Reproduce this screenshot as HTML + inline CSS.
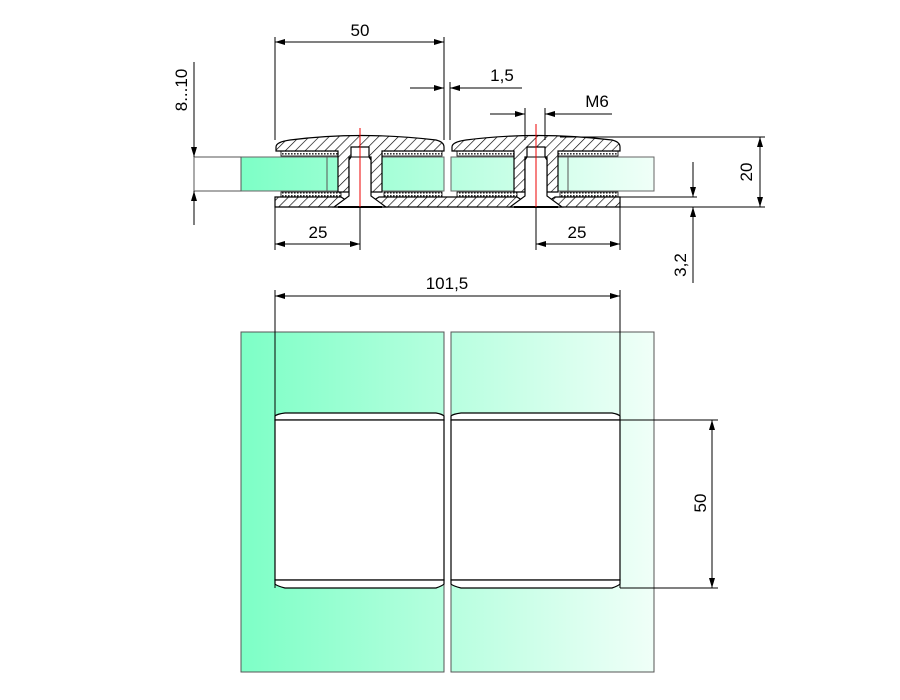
<!DOCTYPE html>
<html><head><meta charset="utf-8"><style>
html,body{margin:0;padding:0;background:#fff}
svg{display:block}
text{font-family:"Liberation Sans",sans-serif;font-size:17px;fill:#000}
</style></head><body>
<svg width="900" height="700" viewBox="0 0 900 700" xmlns="http://www.w3.org/2000/svg">
<defs>
<pattern id="h" width="7" height="7" patternUnits="userSpaceOnUse" patternTransform="rotate(45)">
<rect width="7" height="7" fill="#fff"/><line x1="0" y1="0" x2="0" y2="7" stroke="#000" stroke-width="1.3"/></pattern>
<pattern id="d" width="3" height="3" patternUnits="userSpaceOnUse">
<rect width="3" height="3" fill="#fff"/><rect width="1.6" height="1.6" fill="#333"/></pattern>
<linearGradient id="g" x1="241" x2="654" gradientUnits="userSpaceOnUse">
<stop offset="0" stop-color="#7dffc6"/><stop offset="1" stop-color="#f0fff8"/></linearGradient>
<marker id="a" viewBox="0 0 10 6" refX="10" refY="3" markerWidth="14" markerHeight="6" markerUnits="userSpaceOnUse" orient="auto-start-reverse"><path d="M0,0L10,3L0,6z" fill="#000"/></marker>
</defs>

<!-- Section view glass -->
<rect x="241" y="157" width="203" height="34" fill="url(#g)" stroke="#666"/>
<rect x="451" y="157" width="203" height="34" fill="url(#g)" stroke="#666"/>
<line x1="327" y1="157" x2="327" y2="191" stroke="#555"/>
<line x1="568" y1="157" x2="568" y2="191" stroke="#555"/>
<rect x="194" y="157" width="47" height="34" fill="#fff" stroke="#555"/>

<!-- gaskets -->
<g fill="url(#d)" stroke="#000" stroke-width="0.8">
<rect x="281" y="151" width="57" height="5"/><rect x="382" y="151" width="60" height="5"/>
<rect x="457" y="151" width="57" height="5"/><rect x="558" y="151" width="60" height="5"/>
<rect x="281" y="192" width="60" height="5"/><rect x="384" y="192" width="58" height="5"/>
<rect x="457" y="192" width="60" height="5"/><rect x="560" y="192" width="58" height="5"/>
<rect x="338" y="156" width="7" height="36"/><rect x="375" y="156" width="7" height="36"/>
<rect x="514" y="156" width="7" height="36"/><rect x="551" y="156" width="7" height="36"/>
</g>

<!-- covers -->
<g fill="url(#h)" stroke="#000" stroke-width="1.2">
<path d="M276,147 Q276,142 290,140 Q360,131 436,140 Q444,142 444,147 L444,151 L382,151 L382,192 L371,192 L371,157 L349,157 L349,192 L338,192 L338,151 L276,151 Z"/>
<path d="M452,147 Q452,142 466,140 Q536,131 612,140 Q620,142 620,147 L620,151 L558,151 L558,192 L547,192 L547,157 L525,157 L525,192 L514,192 L514,151 L452,151 Z"/>
<path d="M275,197 L341,197 L349,202 L349,197 L371,197 L371,202 L379,197 L517,197 L525,202 L525,197 L547,197 L547,202 L555,197 L620,197 L620,207 L275,207 Z"/>
</g>
<!-- screws -->
<g fill="#fff" stroke="#000" stroke-width="1.2">
<path d="M351,147 L369,147 L369,157 L371,160 L371,196 L386,207 L334,207 L349,196 L349,160 L351,157 Z"/>
<path d="M527,147 L545,147 L545,157 L547,160 L547,196 L562,207 L510,207 L525,196 L525,160 L527,157 Z"/>
</g>
<line x1="351" y1="157" x2="369" y2="157" stroke="#000"/><line x1="527" y1="157" x2="545" y2="157" stroke="#000"/>
<line x1="338" y1="207" x2="382" y2="207" stroke="#000" stroke-width="2"/>
<line x1="514" y1="207" x2="558" y2="207" stroke="#000" stroke-width="2"/>
<line x1="360" y1="128" x2="360" y2="210" stroke="#e00"/>
<line x1="536" y1="124" x2="536" y2="210" stroke="#e00"/>

<!-- plan view -->
<rect x="241" y="332" width="203" height="340" fill="url(#g)" stroke="#555"/>
<rect x="451" y="332" width="203" height="340" fill="url(#g)" stroke="#555"/>
<g fill="#fff" stroke="#000" stroke-width="1.2">
<path d="M275,420 L275,416 Q277,414 285,413 L436,413 Q442,414 444,416 L444,420 Z"/>
<rect x="275" y="420" width="169" height="160"/>
<path d="M275,580 L275,584 Q277,586 285,588 L436,588 Q442,586 444,584 L444,580 Z"/>
<path d="M451,420 L451,416 Q453,414 461,413 L612,413 Q618,414 620,416 L620,420 Z"/>
<rect x="451" y="420" width="169" height="160"/>
<path d="M451,580 L451,584 Q453,586 461,588 L612,588 Q618,586 620,584 L620,580 Z"/>
</g>

<!-- dimensions -->
<g stroke="#000" stroke-width="1" fill="none">
<line x1="275" y1="37" x2="275" y2="140"/><line x1="444" y1="37" x2="444" y2="140"/>
<line x1="275" y1="42" x2="444" y2="42" marker-start="url(#a)" marker-end="url(#a)"/>
<line x1="450" y1="82" x2="450" y2="140"/>
<line x1="410" y1="88" x2="444" y2="88" marker-end="url(#a)"/>
<line x1="522" y1="88" x2="450" y2="88" marker-end="url(#a)"/>
<line x1="525" y1="108" x2="525" y2="140"/><line x1="545" y1="108" x2="545" y2="140"/>
<line x1="490" y1="114" x2="525" y2="114" marker-end="url(#a)"/>
<line x1="612" y1="114" x2="545" y2="114" marker-end="url(#a)"/>
<line x1="194" y1="62" x2="194" y2="157" marker-end="url(#a)"/>
<line x1="194" y1="225" x2="194" y2="191" marker-end="url(#a)"/>
<line x1="560" y1="137" x2="765" y2="137"/><line x1="620" y1="207" x2="765" y2="207"/>
<line x1="760" y1="137" x2="760" y2="207" marker-start="url(#a)" marker-end="url(#a)"/>
<line x1="620" y1="197" x2="697" y2="197"/>
<line x1="693" y1="162" x2="693" y2="197" marker-end="url(#a)"/>
<line x1="693" y1="283" x2="693" y2="207" marker-end="url(#a)"/>
<line x1="275" y1="207" x2="275" y2="250"/><line x1="360" y1="207" x2="360" y2="250"/>
<line x1="275" y1="244" x2="360" y2="244" marker-start="url(#a)" marker-end="url(#a)"/>
<line x1="536" y1="207" x2="536" y2="250"/><line x1="620" y1="207" x2="620" y2="250"/>
<line x1="536" y1="244" x2="620" y2="244" marker-start="url(#a)" marker-end="url(#a)"/>
<line x1="275" y1="290" x2="275" y2="588"/><line x1="620" y1="290" x2="620" y2="588"/>
<line x1="275" y1="296" x2="620" y2="296" marker-start="url(#a)" marker-end="url(#a)"/>
<line x1="620" y1="420" x2="718" y2="420"/><line x1="620" y1="588" x2="718" y2="588"/>
<line x1="712" y1="420" x2="712" y2="588" marker-start="url(#a)" marker-end="url(#a)"/>
</g>
<text x="360" y="36" text-anchor="middle">50</text>
<text x="502" y="81" text-anchor="middle">1,5</text>
<text x="597" y="107" text-anchor="middle">M6</text>
<text x="318" y="238" text-anchor="middle">25</text>
<text x="577" y="238" text-anchor="middle">25</text>
<text x="447" y="289" text-anchor="middle">101,5</text>
<text transform="translate(187,90) rotate(-90)" text-anchor="middle">8...10</text>
<text transform="translate(752,172) rotate(-90)" text-anchor="middle">20</text>
<text transform="translate(686,265) rotate(-90)" text-anchor="middle">3,2</text>
<text transform="translate(706,503) rotate(-90)" text-anchor="middle">50</text>
</svg>
</body></html>
